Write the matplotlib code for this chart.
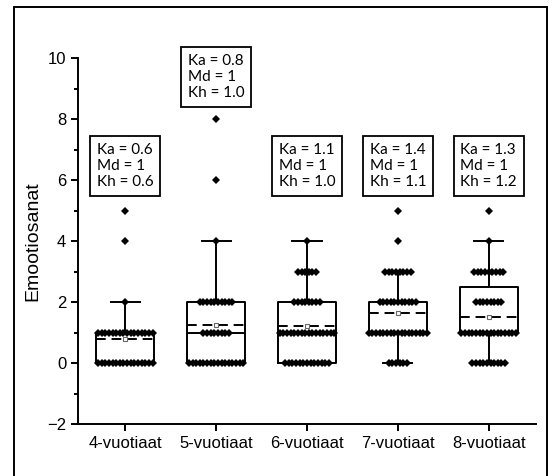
import numpy as np
import matplotlib.pyplot as plt
from matplotlib.patches import Rectangle

# ryhmät ja arvot
groups = ['4-vuotiaat', '5-vuotiaat', '6-vuotiaat', '7-vuotiaat', '8-vuotiaat']
levels = [0, 1, 2, 3, 4, 5, 6, 8]
# lukumäärät kullakin arvolla (luettu kuvasta)
n_4 = [16, 16, 1, 0, 1, 1, 0, 0]
n_5 = [16, 8, 10, 0, 1, 0, 1, 1]
n_6 = [13, 16, 8, 6, 1, 0, 0, 0]
n_7 = [6, 17, 11, 8, 1, 1, 0, 0]
n_8 = [10, 16, 8, 9, 1, 1, 0, 0]
counts = [n_4, n_5, n_6, n_7, n_8]

ka = ['0.6', '0.8', '1.1', '1.4', '1.3']
md = ['1', '1', '1', '1', '1']
kh = ['0.6', '1.0', '1.0', '1.1', '1.2']

plt.rcParams['font.family'] = ['Liberation Sans', 'DejaVu Sans']

fig = plt.figure(figsize=(5.53, 4.76), dpi=100)
ax = fig.add_axes([78 / 553, 1 - 424 / 476, (536 - 78) / 553, (424 - 58) / 476])

box_w = 0.64
dx = 0.04
stats = []
for i, c in enumerate(counts):
    data = np.repeat(levels, c).astype(float)
    q1, med, q3 = np.percentile(data, [25, 50, 75], method='weibull')
    iqr = q3 - q1
    hi = data[data <= q3 + 1.5 * iqr].max()
    lo = data[data >= q1 - 1.5 * iqr].min()
    stats.append(dict(med=med, q1=q1, q3=q3, whislo=lo, whishi=hi,
                      mean=data.mean(), fliers=[], label=groups[i]))

lw = 1.4
ax.bxp(stats, positions=range(len(groups)), widths=box_w, capwidths=box_w / 2,
       showmeans=True, meanline=True, showfliers=False,
       boxprops=dict(color='black', lw=lw),
       whiskerprops=dict(color='black', lw=lw),
       capprops=dict(color='black', lw=lw),
       medianprops=dict(color='black', lw=lw),
       meanprops=dict(color='black', lw=lw, linestyle=(0, (5, 3))))

# pisteet vaakasuunnassa levitettyinä
for i, c in enumerate(counts):
    for v, k in zip(levels, c):
        if k == 0:
            continue
        xs = i + (np.arange(k) - (k - 1) / 2) * dx
        ax.plot(xs, [v] * k, 'D', color='black', ms=3.8, mew=0, zorder=4)
    ax.plot(i, stats[i]['mean'], 's', ms=3.5, mfc='white', mec='#666666', mew=0.8, zorder=5)

# tekstilaatikot
for i in range(len(groups)):
    top = max(v for v, k in zip(levels, counts[i]) if k > 0)
    y = max(6.45, top + 1.37)
    ax.text(i, y, f'Ka = {ka[i]}\nMd = {md[i]}\nKh = {kh[i]}', ha='center', va='center',
            multialignment='left', family=['Lato', 'DejaVu Sans'], fontsize=11,
            linespacing=1.2,
            bbox=dict(boxstyle='square,pad=0.45', fc='white', ec='black', lw=1.3))

ax.set_xlim(-0.52, 4.52)
ax.set_ylim(-2, 10)
ax.set_yticks([-2, 0, 2, 4, 6, 8, 10])
ax.set_yticks(np.arange(-1, 10, 2), minor=True)
ax.set_xticks(range(len(groups)))
ax.set_xticklabels(groups)
ax.set_ylabel('Emootiosanat', fontsize=14, labelpad=4)
ax.spines['top'].set_visible(False)
ax.spines['right'].set_visible(False)
ax.spines['left'].set_linewidth(lw)
ax.spines['bottom'].set_linewidth(lw)
ax.tick_params(which='major', length=5, width=lw, labelsize=12)
ax.tick_params(which='minor', length=3, width=lw)

# kehys kuvan ympärillä
fig.patches.append(Rectangle((13.5 / 553, -0.1), (547 - 13.5) / 553, 1.1 - 7 / 476,
                             transform=fig.transFigure, fill=False, ec='black', lw=1.4))

fig.savefig('out.png', dpi=100)
